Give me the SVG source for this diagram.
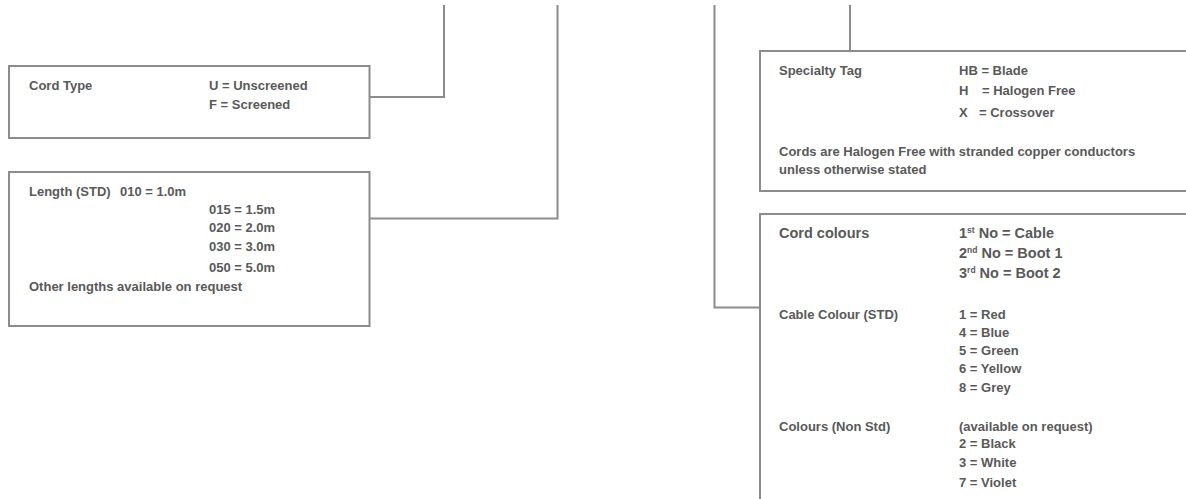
<svg xmlns="http://www.w3.org/2000/svg" width="1186" height="499" viewBox="0 0 1186 499">
<style>
.box{fill:#fff;stroke:#8c8c8c;stroke-width:2}
.con{fill:none;stroke:#8c8c8c;stroke-width:2}
text{font-family:"Liberation Sans",Arial,sans-serif;font-weight:bold;font-size:13px;fill:#595959}
text.big{font-size:14.5px}
.sup{font-size:8.5px}
</style>
<rect x="0" y="0" width="1186" height="499" fill="#fff"/>
<g id="connectors">
<path class="con" d="M369.5 97 H444 V5"/>
<path class="con" d="M369.5 218.5 H557.5 V5"/>
<path class="con" d="M714.5 5 V307.5 H760"/>
<path class="con" d="M850 5 V51"/>
</g>
<g id="cord-type">
<rect class="box" x="9" y="66" width="360.5" height="72"/>
<text x="29" y="90">Cord Type</text>
<text x="209" y="90">U = Unscreened</text>
<text x="209" y="108.5">F = Screened</text>
</g>
<g id="length">
<rect class="box" x="9" y="172" width="360.5" height="154"/>
<text x="29" y="196">Length (STD)</text>
<text x="120" y="196">010 = 1.0m</text>
<text x="209" y="213.5">015 = 1.5m</text>
<text x="209" y="232">020 = 2.0m</text>
<text x="209" y="250.5">030 = 3.0m</text>
<text x="209" y="271.5">050 = 5.0m</text>
<text x="29" y="291">Other lengths available on request</text>
</g>
<g id="specialty-tag">
<rect class="box" x="760" y="51" width="440" height="140"/>
<text x="779" y="75">Specialty Tag</text>
<text x="959" y="75">HB = Blade</text>
<text y="95"><tspan x="959">H</tspan><tspan x="982">= Halogen Free</tspan></text>
<text y="116.5"><tspan x="959">X</tspan><tspan x="979">= Crossover</tspan></text>
<text x="779" y="156">Cords are Halogen Free with stranded copper conductors</text>
<text x="779" y="174">unless otherwise stated</text>
</g>
<g id="cord-colours">
<rect class="box" x="760" y="214" width="440" height="300"/>
<text class="big" x="779" y="237.5">Cord colours</text>
<text class="big" x="959" y="237.5">1<tspan class="sup" dy="-5">st</tspan><tspan dy="5"> No = Cable</tspan></text>
<text class="big" x="959" y="257.5">2<tspan class="sup" dy="-5">nd</tspan><tspan dy="5"> No = Boot 1</tspan></text>
<text class="big" x="959" y="277.5">3<tspan class="sup" dy="-5">rd</tspan><tspan dy="5"> No = Boot 2</tspan></text>
<text x="779" y="318.5">Cable Colour (STD)</text>
<text x="959" y="318.5">1 = Red</text>
<text x="959" y="336.5">4 = Blue</text>
<text x="959" y="355">5 = Green</text>
<text x="959" y="373">6 = Yellow</text>
<text x="959" y="392">8 = Grey</text>
<text x="779" y="430.5">Colours (Non Std)</text>
<text x="959" y="430.5">(available on request)</text>
<text x="959" y="448">2 = Black</text>
<text x="959" y="467">3 = White</text>
<text x="959" y="487">7 = Violet</text>
</g>
</svg>
